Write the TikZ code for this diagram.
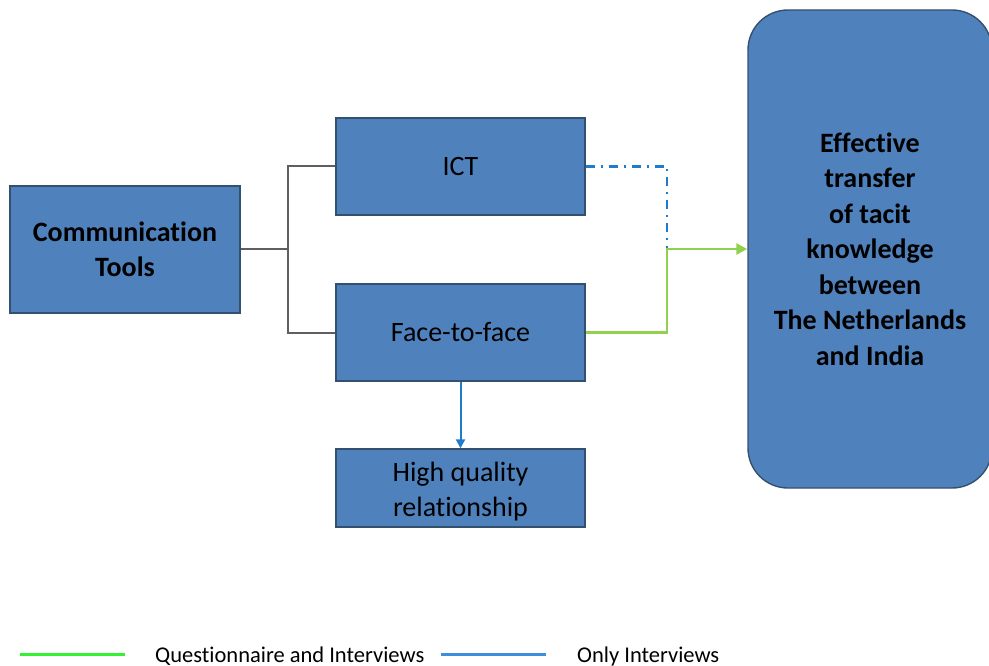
\documentclass[tikz,border=0pt]{standalone}
\usepackage{fontspec}
\setmainfont{Carlito}[Ligatures={NoCommon}]
\usetikzlibrary{arrows.meta}
\definecolor{boxfill}{HTML}{4F81BD}
\definecolor{boxedge}{HTML}{34506F}
\definecolor{linkgrey}{HTML}{5F5F5F}
\definecolor{qgreen}{HTML}{92D050}
\definecolor{ibluel}{HTML}{1F7BCB}
\definecolor{legendgreen}{HTML}{33F033}
\definecolor{legendblue}{HTML}{3D8FDB}
\tikzset{
  box/.style={draw=boxedge, line width=1.4pt, fill=boxfill, inner sep=0pt,
    align=center, font=\fontsize{28}{35.5}\selectfont},
  boldbox/.style={box, font=\fontsize{28}{35.5}\selectfont\bfseries},
  boxtext/.style={inner sep=0pt, align=center, font=\fontsize{28}{35.5}\selectfont},
  branch/.style={draw=linkgrey, line width=2pt},
  qlink/.style={draw=qgreen, line width=2.6pt},
  ilink/.style={draw=ibluel, line width=2.4pt},
  legendtext/.style={anchor=base west, inner sep=0pt, font=\fontsize{22.5}{26}\selectfont}
}
\begin{document}
\begin{tikzpicture}[x=1pt, y=-1pt]
\useasboundingbox (0,0) rectangle (989,666);

% boxes
\node[boldbox, minimum width=230pt, minimum height=127pt] (comm) at (125,249.5)
  {Communication\\Tools};
\node[box, minimum width=249pt, minimum height=97pt] (ict) at (460.5,166.5) {ICT};
\node[box, minimum width=249pt, minimum height=97pt] (f2f) at (460.5,332.5) {Face-to-face};
\node[box, minimum width=249pt, minimum height=78pt] (hqr) at (460.5,488) {};
\node[boxtext] (hqrtext) at (460.5,491.5) {High quality\\relationship};
\node[boldbox, rounded corners=40pt, minimum width=244pt, minimum height=478pt] (goal) at (870,249)
  {Effective\\transfer\\of tacit\\knowledge\\between\\The Netherlands\\and India};

% branching connector
\coordinate (fork) at (288,249);
\draw[branch] (comm.east |- fork) -- (fork);
\draw[branch] (ict.west) -| (fork) |- (f2f.west);

% routes into the goal
\coordinate (join) at (667,249);
\draw[ilink, dash pattern=on 9pt off 6pt on 2pt off 6pt] (ict.east) -| (join);
\draw[qlink, -{Triangle[length=11pt, width=11pt]}] (f2f.east) -| (join) -- (goal.west |- join);
\draw[ilink, line width=2pt, -{Triangle[length=9pt, width=9pt]}] (f2f.south) -- (hqr.north);

% legend
\coordinate (lg1) at (20,654);
\coordinate (lg2) at (125,654);
\coordinate (lb1) at (441,654);
\coordinate (lb2) at (546,654);
\draw[draw=legendgreen, line width=3pt] (lg1) -- (lg2);
\node[legendtext] (lgt) at (155,662) {Questionnaire and Interviews};
\draw[draw=legendblue, line width=3pt] (lb1) -- (lb2);
\node[legendtext] (lbt) at (577,662) {Only Interviews};
\end{tikzpicture}
\end{document}
